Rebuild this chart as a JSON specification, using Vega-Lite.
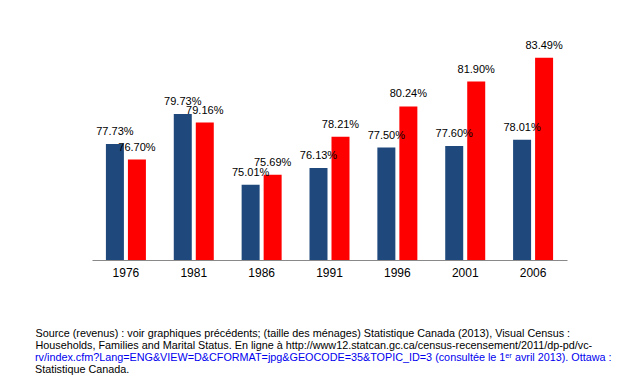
{
  "$schema": "https://vega.github.io/schema/vega-lite/v6.json",
  "width": 475,
  "height": 225,
  "autosize": {"type": "none"},
  "padding": {"left": 92, "top": 35, "right": 51, "bottom": 123},
  "background": "white",
  "config": {
    "view": {"stroke": null},
    "font": "Liberation Sans",
    "text": {"font": "Liberation Sans"}
  },
  "title": {
    "text": "rv/index.cfm?Lang=ENG&VIEW=D&CFORMAT=jpg&GEOCODE=35&TOPIC_ID=3 (consultée le 1ᵉʳ avril 2013). Ottawa :",
    "subtitle": "Statistique Canada.",
    "orient": "bottom",
    "anchor": "start",
    "dx": 0,
    "offset": 2,
    "font": "Liberation Sans",
    "fontSize": 10.8,
    "fontWeight": "normal",
    "color": "#0000EE",
    "subtitleFont": "Liberation Sans",
    "subtitleFontSize": 10.8,
    "subtitleColor": "black",
    "subtitlePadding": 1,
    "lineHeight": 12,
    "subtitleLineHeight": 12
  },
  "datasets": {
    "bars": [
      {"year": "1976", "series": "Ajusté pour la taille moyenne des ménages", "v": 0.7773},
      {"year": "1976", "series": "Par individu", "v": 0.7670},
      {"year": "1981", "series": "Ajusté pour la taille moyenne des ménages", "v": 0.7973},
      {"year": "1981", "series": "Par individu", "v": 0.7916},
      {"year": "1986", "series": "Ajusté pour la taille moyenne des ménages", "v": 0.7501},
      {"year": "1986", "series": "Par individu", "v": 0.7569},
      {"year": "1991", "series": "Ajusté pour la taille moyenne des ménages", "v": 0.7613},
      {"year": "1991", "series": "Par individu", "v": 0.7821},
      {"year": "1996", "series": "Ajusté pour la taille moyenne des ménages", "v": 0.7750},
      {"year": "1996", "series": "Par individu", "v": 0.8024},
      {"year": "2001", "series": "Ajusté pour la taille moyenne des ménages", "v": 0.7760},
      {"year": "2001", "series": "Par individu", "v": 0.8190},
      {"year": "2006", "series": "Ajusté pour la taille moyenne des ménages", "v": 0.7801},
      {"year": "2006", "series": "Par individu", "v": 0.8349}
    ],
    "legend": [
      {"entry": "Ajusté pour la taille moyenne des ménages"},
      {"entry": "Par individu"}
    ]
  },
  "data": {"name": "bars"},
  "layer": [
    {
      "mark": {"type": "bar"},
      "encoding": {
        "x": {
          "field": "year",
          "type": "nominal",
          "scale": {"paddingInner": 0.4105, "paddingOuter": 0.205},
          "axis": {
            "labelAngle": 0,
            "labelFontSize": 12,
            "labelFont": "Liberation Sans",
            "labelColor": "black",
            "labelPadding": 7,
            "ticks": false,
            "domainColor": "#898989",
            "domainWidth": 1,
            "title": [
              "Source  (revenus) : voir graphiques précédents; (taille des ménages) Statistique Canada (2013), Visual Census :",
              "Households, Families and Marital Status. En ligne à http://www12.statcan.gc.ca/census-recensement/2011/dp-pd/vc-"
            ],
            "titleFont": "Liberation Sans",
            "titleFontSize": 10.8,
            "titleFontWeight": "normal",
            "titleColor": "black",
            "titleAnchor": "start",
            "titleAlign": "left",
            "titleBaseline": "top",
            "titleLineHeight": 12,
            "titleX": -57,
            "titleY": 67
          }
        },
        "xOffset": {
          "field": "series",
          "type": "nominal",
          "sort": ["Ajusté pour la taille moyenne des ménages", "Par individu"],
          "scale": {"paddingInner": 0.182, "paddingOuter": 0}
        },
        "y": {
          "field": "v",
          "type": "quantitative",
          "scale": {"domain": [0.70, 0.85], "zero": false, "nice": false},
          "axis": null
        },
        "y2": {"datum": 0.70},
        "fill": {
          "field": "series",
          "type": "nominal",
          "scale": {"domain": ["Ajusté pour la taille moyenne des ménages", "Par individu"], "range": ["#1F497D", "#FF0000"]},
          "legend": null
        }
      }
    },
    {
      "mark": {"type": "text", "dy": -12, "fontSize": 11, "font": "Liberation Sans", "color": "black"},
      "encoding": {
        "x": {"field": "year", "type": "nominal"},
        "xOffset": {
          "field": "series",
          "type": "nominal",
          "sort": ["Ajusté pour la taille moyenne des ménages", "Par individu"]
        },
        "y": {"field": "v", "type": "quantitative"},
        "text": {"field": "v", "type": "quantitative", "format": ".2%"}
      }
    },
    {
      "data": {"name": "legend"},
      "mark": {"type": "square", "size": 0, "filled": true},
      "encoding": {
        "color": {
          "field": "entry",
          "type": "nominal",
          "scale": {"domain": ["Ajusté pour la taille moyenne des ménages", "Par individu"], "range": ["#1F497D", "#C4BD97"]},
          "legend": {
            "orient": "bottom",
            "offset": -65,
            "direction": "horizontal",
            "title": " ",
            "titleOrient": "left",
            "titlePadding": 62,
            "titleFontSize": 11,
            "symbolType": "square",
            "symbolSize": 40,
            "symbolStrokeWidth": 0,
            "labelFontSize": 12,
            "labelColor": "black",
            "labelLimit": 0,
            "labelOffset": 3,
            "columnPadding": 24
          }
        }
      }
    }
  ]
}
